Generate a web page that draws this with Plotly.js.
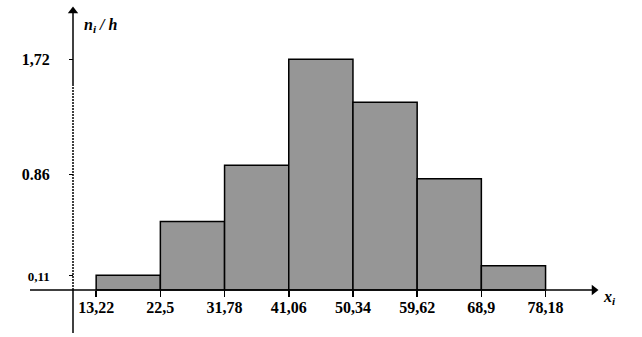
<!DOCTYPE html>
<html><head><meta charset="utf-8">
<script src="https://cdn.plot.ly/plotly-3.0.1.min.js"></script>
<style>html,body{margin:0;padding:0;background:#fff}#c{width:642px;height:337px}</style>
</head><body><div id="c"></div>
<script>
// Data
const edges = [13.22, 22.5, 31.78, 41.06, 50.34, 59.62, 68.9, 78.18];
const edgeLabels = ["13,22", "22,5", "31,78", "41,06", "50,34", "59,62", "68,9", "78,18"];
const density = [0.11, 0.51, 0.93, 1.72, 1.40, 0.83, 0.18];
const yTickVals = [0.11, 0.86, 1.72];
const yTickLabels = ['<span style="font-size:13px">0,11</span>', "0.86", "1,72"];

const W = 642, H = 337;
const xRange = [-0.68, 92.12];
const yRange = [-0.3505, 2.1626];
const px2x = p => xRange[0] + p / W * (xRange[1] - xRange[0]);
const py2y = p => yRange[1] - p / H * (yRange[1] - yRange[0]);

const centers = density.map((_, i) => (edges[i] + edges[i + 1]) / 2);
const widths = density.map((_, i) => edges[i + 1] - edges[i]);

const font = {family: "Liberation Serif, Times New Roman, serif", size: 16, color: "#000", weight: "bold"};

const yAxisX = px2x(73);
const bars = {
  type: "bar", x: centers, y: density, width: widths, base: 0,
  marker: {color: "#969696", line: {color: "#000", width: 1.5}},
  hoverinfo: "none"
};
const heads = {
  type: "scatter", mode: "markers", cliponaxis: false, hoverinfo: "none",
  x: [yAxisX, px2x(594)], y: [py2y(11), 0],
  marker: {symbol: ["triangle-up", "triangle-right"], size: 9, color: "#000", line: {width: 0}}
};

const layout = {
  width: W, height: H,
  margin: {l: 0, r: 0, t: 0, b: 0},
  paper_bgcolor: "#fff", plot_bgcolor: "rgba(0,0,0,0)",
  showlegend: false,
  xaxis: {
    range: xRange, anchor: "free", position: 47 / H,
    showgrid: false, zeroline: false, showline: false,
    tickmode: "array", tickvals: edges, ticktext: edgeLabels,
    ticks: "outside", ticklen: 6, tickwidth: 1.5, tickcolor: "#000",
    tickfont: font, ticklabelstandoff: -3
  },
  yaxis: {
    range: yRange, anchor: "free", position: 73 / W,
    showgrid: false, zeroline: false, showline: false,
    tickmode: "array", tickvals: yTickVals, ticktext: yTickLabels,
    ticks: "outside", ticklen: 4, tickwidth: 1, tickcolor: "#000",
    tickfont: font, ticklabelstandoff: 16
  },
  shapes: [
    {type: "line", xref: "x", yref: "y", x0: yAxisX, x1: yAxisX, y0: py2y(12), y1: py2y(84), line: {color: "#000", width: 1.5}},
    {type: "line", xref: "x", yref: "y", x0: yAxisX, x1: yAxisX, y0: py2y(84), y1: 0, line: {color: "#000", width: 1.5, dash: "2px,1px"}},
    {type: "line", xref: "x", yref: "y", x0: yAxisX, x1: yAxisX, y0: 0, y1: py2y(333), line: {color: "#000", width: 1.5}},
    {type: "line", xref: "x", yref: "y", x0: px2x(30), x1: px2x(592), y0: 0, y1: 0, line: {color: "#000", width: 1.5}}
  ],
  annotations: [
    {x: 82 / W, y: 1 - 25 / H, xref: "paper", yref: "paper", xanchor: "left", yanchor: "middle",
     text: "<b><i>n<sub>i</sub> / h</i></b>", showarrow: false, font: font},
    {x: 601 / W, y: 1 - 297 / H, xref: "paper", yref: "paper", xanchor: "left", yanchor: "middle",
     text: "<b><i>x<sub>i</sub></i></b>", showarrow: false, font: font}
  ]
};

Plotly.newPlot("c", [bars, heads], layout, {staticPlot: true, displayModeBar: false});
</script>
</body></html>
